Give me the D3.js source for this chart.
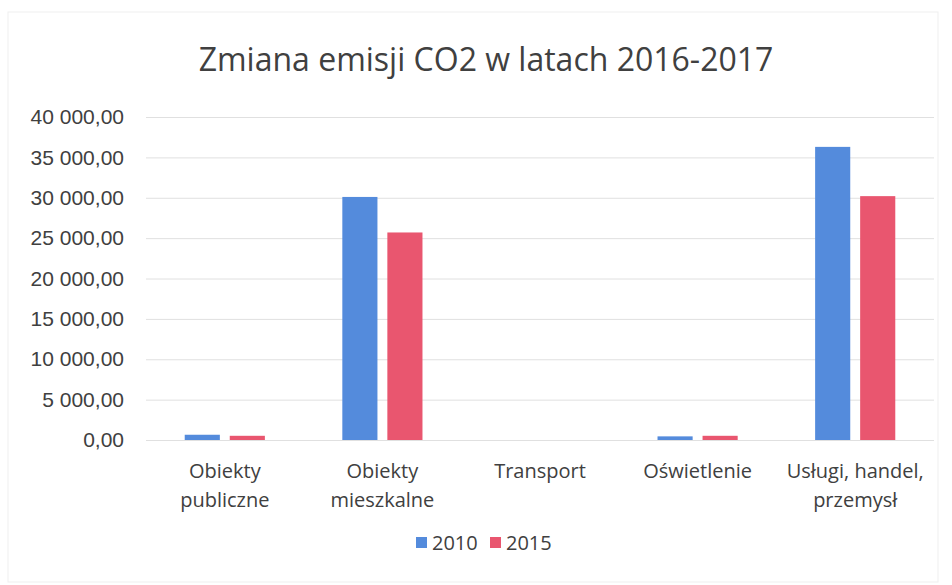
<!DOCTYPE html>
<html>
<head>
<meta charset="utf-8">
<script src="https://cdn.jsdelivr.net/npm/d3@7"></script>
<style>
  body { margin: 0; background: #fff; }
  svg { display: block; font-family: "Open Sans", sans-serif; }
</style>
</head>
<body>
<svg width="952" height="585"></svg>
<script>
const categories = [
    ["Obiekty", "publiczne"],
    ["Obiekty", "mieszkalne"],
    ["Transport"],
    ["Oświetlenie"],
    ["Usługi, handel,", "przemysł"]
];
const years = ["2010", "2015"];
const values2010 = [650, 30100, 0, 450, 36300];
const values2015 = [520, 25700, 0, 520, 30200];
const yTicks = [0, 5000, 10000, 15000, 20000, 25000, 30000, 35000, 40000];
const title = "Zmiana emisji CO2 w latach 2016-2017";

const colors = { "2010": "#548bdc", "2015": "#e9566f" };

const svg = d3.select("svg");
const width = +svg.attr("width");
const height = +svg.attr("height");

const margin = { left: 146, right: 18, top: 117, bottom: 145 };
const plotW = width - margin.left - margin.right;
const plotH = height - margin.top - margin.bottom;

// faint frame of the scanned chart
svg.append("rect")
    .attr("x", 8).attr("y", 12)
    .attr("width", 930).attr("height", 570)
    .attr("fill", "none")
    .attr("stroke", "#efefef")
    .attr("stroke-width", 1);

const g = svg.append("g").attr("transform", `translate(${margin.left},${margin.top})`);

const keys = categories.map((c, i) => i);
const x0 = d3.scaleBand().domain(keys).range([0, plotW]);
const x1 = d3.scaleBand().domain(years).range([0, x0.bandwidth()])
    .paddingInner(0.22).paddingOuter(0.86);
const y = d3.scaleLinear().domain([0, 40000]).range([plotH, 0]);

const fmt = v => d3.format(",.2f")(v).replace(/,/g, " ").replace(".", ",");

// gridlines
g.append("g")
    .selectAll("line")
    .data(yTicks)
    .enter()
    .append("line")
    .attr("x1", 0)
    .attr("x2", plotW)
    .attr("y1", d => y(d) + 0.5)
    .attr("y2", d => y(d) + 0.5)
    .attr("stroke", "#e0e0e0")
    .attr("stroke-width", 1);

// y axis labels
const yAxis = d3.axisLeft(y).tickValues(yTicks).tickFormat(fmt).tickSize(0).tickPadding(22);
g.append("g")
    .call(yAxis)
    .call(a => a.select(".domain").remove())
    .selectAll("text")
    .attr("fill", "#404040")
    .style("font-size", "21px");

// bars
const rows = keys.map(i => ({ i, vals: [values2010[i], values2015[i]] }));
const groups = g.selectAll("g.cat")
    .data(rows)
    .enter()
    .append("g")
    .attr("class", "cat")
    .attr("transform", d => `translate(${x0(d.i)},0)`);

groups.selectAll("rect")
    .data(d => d.vals.map((v, k) => ({ year: years[k], v })))
    .enter()
    .append("rect")
    .attr("x", d => x1(d.year))
    .attr("width", x1.bandwidth())
    .attr("y", d => y(d.v))
    .attr("height", d => plotH - y(d.v))
    .attr("fill", d => colors[d.year]);

// category labels
const xLabels = g.append("g")
    .attr("transform", `translate(0,${plotH})`)
    .selectAll("text")
    .data(rows)
    .enter()
    .append("text")
    .attr("x", d => x0(d.i) + x0.bandwidth() / 2)
    .attr("y", 38)
    .attr("text-anchor", "middle")
    .attr("fill", "#404040")
    .style("font-size", "20px");

xLabels.selectAll("tspan")
    .data(d => categories[d.i])
    .enter()
    .append("tspan")
    .attr("x", function() { return d3.select(this.parentNode).attr("x"); })
    .attr("dy", (d, k) => k === 0 ? 0 : 29)
    .text(d => d);

// title
svg.append("text")
    .attr("x", 486)
    .attr("y", 71)
    .attr("text-anchor", "middle")
    .attr("fill", "#404040")
    .style("font-size", "32px")
    .text(title);

// legend
const legend = svg.append("g").attr("transform", "translate(416,550)");
const items = legend.selectAll("g")
    .data(years)
    .enter()
    .append("g")
    .attr("transform", (d, k) => `translate(${k * 74},0)`);
items.append("rect")
    .attr("x", 0).attr("y", -13)
    .attr("width", 11).attr("height", 11)
    .attr("fill", d => colors[d]);
items.append("text")
    .attr("x", 16)
    .attr("y", 0)
    .attr("fill", "#404040")
    .style("font-size", "20px")
    .text(d => d);
</script>
</body>
</html>
